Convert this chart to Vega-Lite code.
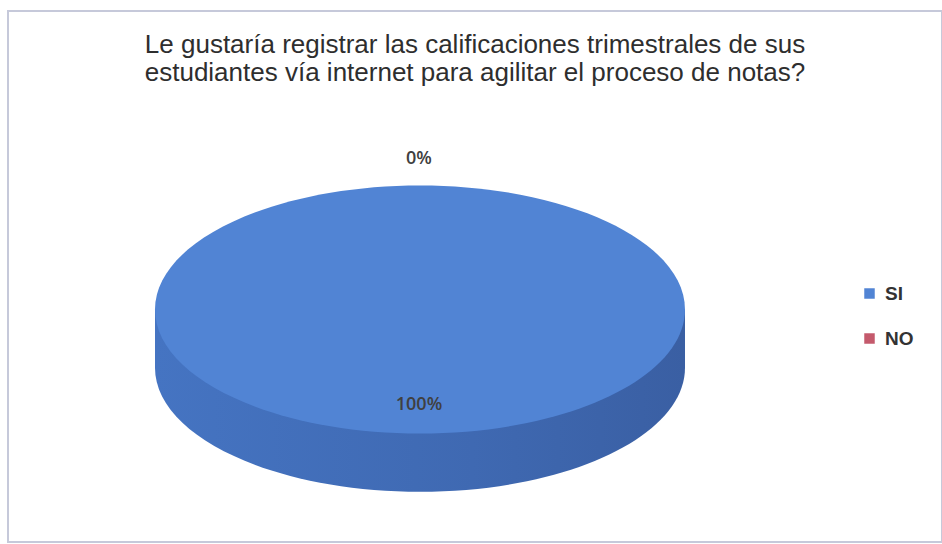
{
  "$schema": "https://vega.github.io/schema/vega-lite/v6.json",
  "width": 942,
  "height": 544,
  "autosize": {"type": "fit", "contains": "padding"},
  "padding": {"left": 8, "top": 11, "right": 0, "bottom": 2},
  "background": "white",
  "view": {"stroke": "#C6C9DA", "strokeWidth": 2},
  "config": {
    "view": {"stroke": "#C6C9DA", "strokeWidth": 2},
    "font": "Liberation Sans"
  },
  "title": {
    "text": ["Le gustaría registrar las calificaciones trimestrales de sus", "estudiantes vía internet para agilitar el proceso de notas?"],
    "anchor": "middle",
    "frame": "group",
    "orient": "top",
    "offset": -75,
    "font": "Liberation Sans",
    "fontSize": 26,
    "fontWeight": "normal",
    "color": "#2E2E2E",
    "lineHeight": 28
  },
  "data": {
    "values": [
      {"categoria": "SI", "valor": 100, "porcentaje": 1},
      {"categoria": "NO", "valor": 0, "porcentaje": 0}
    ]
  },
  "layer": [
    {
      "transform": [{"filter": "datum.valor > 0"}],
      "mark": {
        "type": "point",
        "filled": true,
        "opacity": 1,
        "size": 280900,
        "xOffset": -55,
        "yOffset": 33,
        "shape": "M -1 0 L -1 0.22 A 1 0.468 0 0 0 1 0.22 L 1 0 Z",
        "fill": {
          "x1": 0, "y1": 0, "x2": 1, "y2": 0,
          "gradient": "linear",
          "stops": [
            {"offset": 0, "color": "#4574C2"},
            {"offset": 0.6, "color": "#3F69B2"},
            {"offset": 1, "color": "#3A5FA3"}
          ]
        },
        "strokeWidth": 0
      },
      "encoding": {}
    },
    {
      "transform": [{"filter": "datum.valor > 0"}],
      "mark": {
        "type": "point",
        "filled": true,
        "opacity": 1,
        "size": 280900,
        "xOffset": -55,
        "yOffset": 33,
        "shape": "M -1 0 A 1 0.468 0 1 1 1 0 A 1 0.468 0 1 1 -1 0 Z",
        "strokeWidth": 0
      },
      "encoding": {
        "color": {
          "field": "categoria",
          "type": "nominal",
          "scale": {"domain": ["SI", "NO"], "range": ["#5184D4", "#C45A6C"]},
          "legend": {
            "title": null,
            "orient": "none",
            "legendX": 852,
            "legendY": 273,
            "symbolType": "square",
            "symbolSize": 110,
            "symbolStrokeWidth": 0,
            "labelFont": "Liberation Sans",
            "labelFontSize": 19,
            "labelFontWeight": "bold",
            "labelColor": "#333333",
            "labelOffset": 6,
            "rowPadding": 25
          }
        }
      }
    },
    {
      "mark": {
        "type": "text",
        "radius": 123,
        "xOffset": -56,
        "yOffset": 5,
        "font": "Open Sans",
        "fontSize": 18,
        "fontWeight": 600,
        "color": "#404040"
      },
      "encoding": {
        "theta": {"field": "valor", "type": "quantitative", "stack": true},
        "text": {"field": "porcentaje", "type": "quantitative", "format": ".0%"}
      }
    }
  ]
}
